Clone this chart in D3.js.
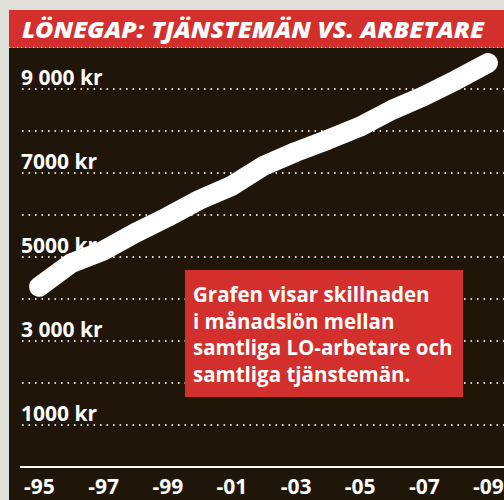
<!DOCTYPE html>
<html><head><meta charset="utf-8">
<script src="https://cdn.jsdelivr.net/npm/d3@7"></script>
<style>
html,body{margin:0;padding:0;background:#e0e0da;}
svg{display:block;}
</style></head>
<body>
<script>
const title = "LÖNEGAP: TJÄNSTEMÄN VS. ARBETARE";
const years = [1995,1996,1997,1998,1999,2000,2001,2002,2003,2004,2005,2006,2007,2008,2009];
const gap = [4290,4850,5150,5570,5950,6360,6690,7170,7500,7790,8100,8500,8830,9210,9620];
const gridValues = [1000,2000,3000,4000,5000,6000,7000,8000,9000];
const yTickValues = [1000,3000,5000,7000,9000];
const yTickLabels = ["1000 kr","3 000 kr","5000 kr","7000 kr","9 000 kr"];
const xTickValues = [1995,1997,1999,2001,2003,2005,2007,2009];
const xTickLabels = ["-95","-97","-99","-01","-03","-05","-07","-09"];
const noteLines = ["Grafen visar skillnaden","i månadslön mellan","samtliga LO-arbetare och","samtliga tjänstemän."];

const W = 504, H = 500;
const svg = d3.select("body").append("svg").attr("width", W).attr("height", H);
const font = "'Open Sans', 'DejaVu Sans', sans-serif";

svg.append("rect").attr("x",0).attr("y",0).attr("width",W).attr("height",H).attr("fill","#e0e0da");
svg.append("rect").attr("x",9).attr("y",10).attr("width",W-9).attr("height",38).attr("fill","#d32f2d");
svg.append("rect").attr("x",9).attr("y",48).attr("width",W-9).attr("height",H-48).attr("fill","#201509");
svg.append("line").attr("x1",9).attr("x2",W).attr("y1",47.5).attr("y2",47.5)
  .attr("stroke","#d8d0c8").attr("stroke-width",1).attr("stroke-dasharray","1.5 2.5");

svg.append("text").text(title)
  .attr("x",22).attr("y",38)
  .attr("font-family",font).attr("font-weight",800).attr("font-style","italic")
  .attr("font-size",22).attr("fill","#fff")
  .attr("textLength",462).attr("lengthAdjust","spacingAndGlyphs");

const x = d3.scaleLinear().domain([1995,2009]).range([39,488]);
const y = d3.scaleLinear().domain([0,10000]).range([467,47]);

// grid
svg.append("g").selectAll("line").data(gridValues).join("line")
  .attr("x1",22).attr("x2",W)
  .attr("y1",d=>y(d)).attr("y2",d=>y(d))
  .attr("stroke","#d9d3cc").attr("stroke-width",2)
  .attr("stroke-dasharray","1.6 4.9");

// y labels
svg.append("g").selectAll("text").data(yTickValues).join("text")
  .attr("x",21).attr("y",d=>y(d)-4)
  .text((d,i)=>yTickLabels[i])
  .attr("font-family",font).attr("font-weight",700)
  .attr("font-size",21).attr("fill","#fff").attr("letter-spacing","0");

// x axis
const xAxis = d3.axisBottom(x).tickValues(xTickValues)
  .tickFormat((d,i)=>xTickLabels[i]).tickSize(0).tickPadding(12);
const gx = svg.append("g").attr("transform",`translate(0,${y(0)})`).call(xAxis);
gx.select(".domain").remove();
gx.selectAll("text").attr("font-family",font).attr("font-weight",700)
  .attr("font-size",21).attr("fill","#fff");
svg.append("line").attr("x1",20).attr("x2",W).attr("y1",y(0)).attr("y2",y(0))
  .attr("stroke","#fff").attr("stroke-width",2);

// line
const line = d3.line().x((d,i)=>x(years[i])).y(d=>y(d));
svg.append("path").datum(gap).attr("d",line)
  .attr("fill","none").attr("stroke","#fff").attr("stroke-width",20)
  .attr("stroke-linecap","round").attr("stroke-linejoin","round");

// note
svg.append("rect").attr("x",185).attr("y",270).attr("width",278).attr("height",127).attr("fill","#d32f2d");
svg.append("g").selectAll("text").data(noteLines).join("text")
  .attr("x",193).attr("y",(d,i)=>302+i*26.7)
  .text(d=>d)
  .attr("font-family",font).attr("font-weight",700)
  .attr("font-size",20.5).attr("fill","#fff").attr("letter-spacing","0");
</script>
</body></html>
